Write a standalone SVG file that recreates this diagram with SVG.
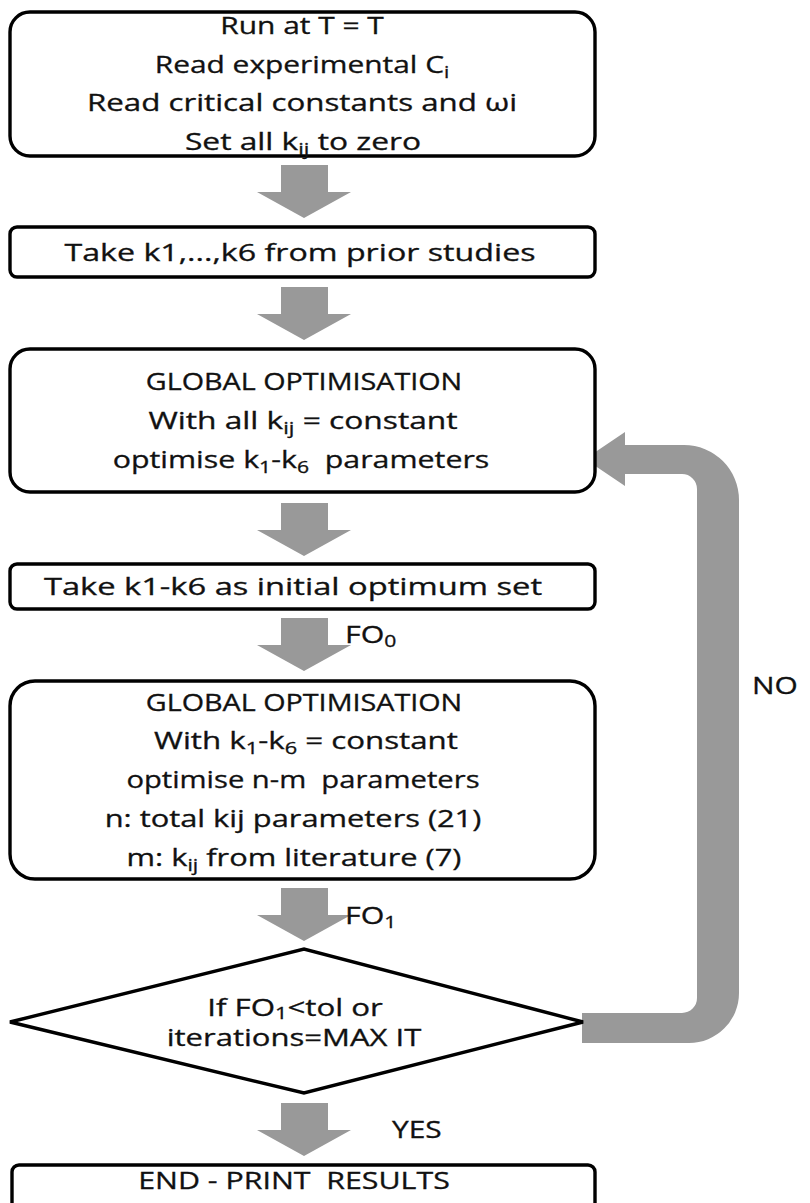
<svg xmlns="http://www.w3.org/2000/svg" xmlns:xlink="http://www.w3.org/1999/xlink" width="810" height="1203" viewBox="0 0 810 1203">
<style>
.box{fill:#fff;stroke:#000;stroke-width:3.4}
.t{font-family:"Open Sans","Liberation Sans",sans-serif;font-size:23px;fill:#111;stroke:#111;stroke-width:0.3;text-anchor:middle}
.l{text-anchor:start}
.s{font-size:16px}
.arr{fill:#999}
</style>
<defs>
<path id="dn" d="M -23 0 H 24 V 27 H 47 L 0 53 L -47 27 H -23 Z"/>
</defs>
<rect width="810" height="1203" fill="#fff"/>
<g id="connectors" class="arr">
<use xlink:href="#dn" href="#dn" transform="translate(304 165)"/>
<use xlink:href="#dn" href="#dn" transform="translate(304 287)"/>
<use xlink:href="#dn" href="#dn" transform="translate(304 503)"/>
<use xlink:href="#dn" href="#dn" transform="translate(304 618)"/>
<use xlink:href="#dn" href="#dn" transform="translate(304 888)"/>
<use xlink:href="#dn" href="#dn" transform="translate(304 1103)"/>
<path d="M 582 1043 L 689 1043 A 50 50 0 0 0 739 993 L 739 500 A 55 55 0 0 0 684 445 L 625 445 L 625 432 L 585 459 L 625 486 L 625 474 L 682 474 A 15 15 0 0 1 697 489 L 697 998 A 15 15 0 0 1 682 1013 L 582 1013 Z"/>
<text class="t l" transform="translate(345 643) scale(1.32 1)">FO<tspan class="s" dy="4">0</tspan></text>
<text class="t l" transform="translate(345 924) scale(1.32 1)">FO<tspan class="s" dy="4">1</tspan></text>
<text class="t l" transform="translate(392 1138) scale(1.3 1)">YES</text>
<text class="t l" transform="translate(752 694) scale(1.3 1)">NO</text>
</g>
<g id="n1">
<rect class="box" x="10" y="12" width="585" height="144" rx="20"/>
<text class="t" transform="translate(302 34) scale(1.3 1)">Run at T = T</text>
<text class="t" transform="translate(302 73) scale(1.3 1)">Read experimental C<tspan class="s" dy="5">i</tspan></text>
<text class="t" transform="translate(302 111) scale(1.36 1)">Read critical constants and ωi</text>
<text class="t" transform="translate(303 150) scale(1.38 1)">Set all k<tspan class="s" dy="5">ij</tspan><tspan dy="-5"> to zero</tspan></text>
</g>
<g id="n2">
<rect class="box" x="10" y="227" width="585" height="50" rx="7"/>
<text class="t" transform="translate(300 261) scale(1.4 1)">Take k1,...,k6 from prior studies</text>
</g>
<g id="n3">
<rect class="box" x="10" y="349" width="585" height="143" rx="20"/>
<text class="t" transform="translate(304 390) scale(1.25 1)">GLOBAL OPTIMISATION</text>
<text class="t" transform="translate(303 429) scale(1.38 1)">With all k<tspan class="s" dy="5">ij</tspan><tspan dy="-5"> = constant</tspan></text>
<text class="t" transform="translate(301 468) scale(1.32 1)">optimise k<tspan class="s" dy="5">1</tspan><tspan dy="-5">-k</tspan><tspan class="s" dy="5">6</tspan><tspan dy="-5">&#160; parameters</tspan></text>
</g>
<g id="n4">
<rect class="box" x="10" y="564" width="585" height="45" rx="7"/>
<text class="t" transform="translate(293 595) scale(1.42 1)">Take k1-k6 as initial optimum set</text>
</g>
<g id="n5">
<rect class="box" x="10" y="681" width="585" height="198" rx="25"/>
<text class="t" transform="translate(304 711) scale(1.25 1)">GLOBAL OPTIMISATION</text>
<text class="t" transform="translate(306 749) scale(1.36 1)">With k<tspan class="s" dy="5">1</tspan><tspan dy="-5">-k</tspan><tspan class="s" dy="5">6</tspan><tspan dy="-5"> = constant</tspan></text>
<text class="t" transform="translate(303 788) scale(1.27 1)">optimise n-m &#160;parameters</text>
<text class="t" transform="translate(293 827) scale(1.34 1)">n: total kij parameters (21)</text>
<text class="t" transform="translate(294 866) scale(1.34 1)">m: k<tspan class="s" dy="5">ij</tspan><tspan dy="-5"> from literature (7)</tspan></text>
</g>
<g id="n6">
<polygon class="box" points="10,1022 304,949 583,1022 304,1093"/>
<text class="t" transform="translate(295 1016) scale(1.36 1)">If FO<tspan class="s" dy="3">1</tspan><tspan dy="-3">&lt;tol or</tspan></text>
<text class="t" transform="translate(294 1046) scale(1.35 1)">iterations=MAX IT</text>
</g>
<g id="n7">
<rect class="box" x="12" y="1165" width="583" height="70" rx="7"/>
<text class="t" transform="translate(294 1189) scale(1.32 1)">END - PRINT &#160;RESULTS</text>
</g>
</svg>
